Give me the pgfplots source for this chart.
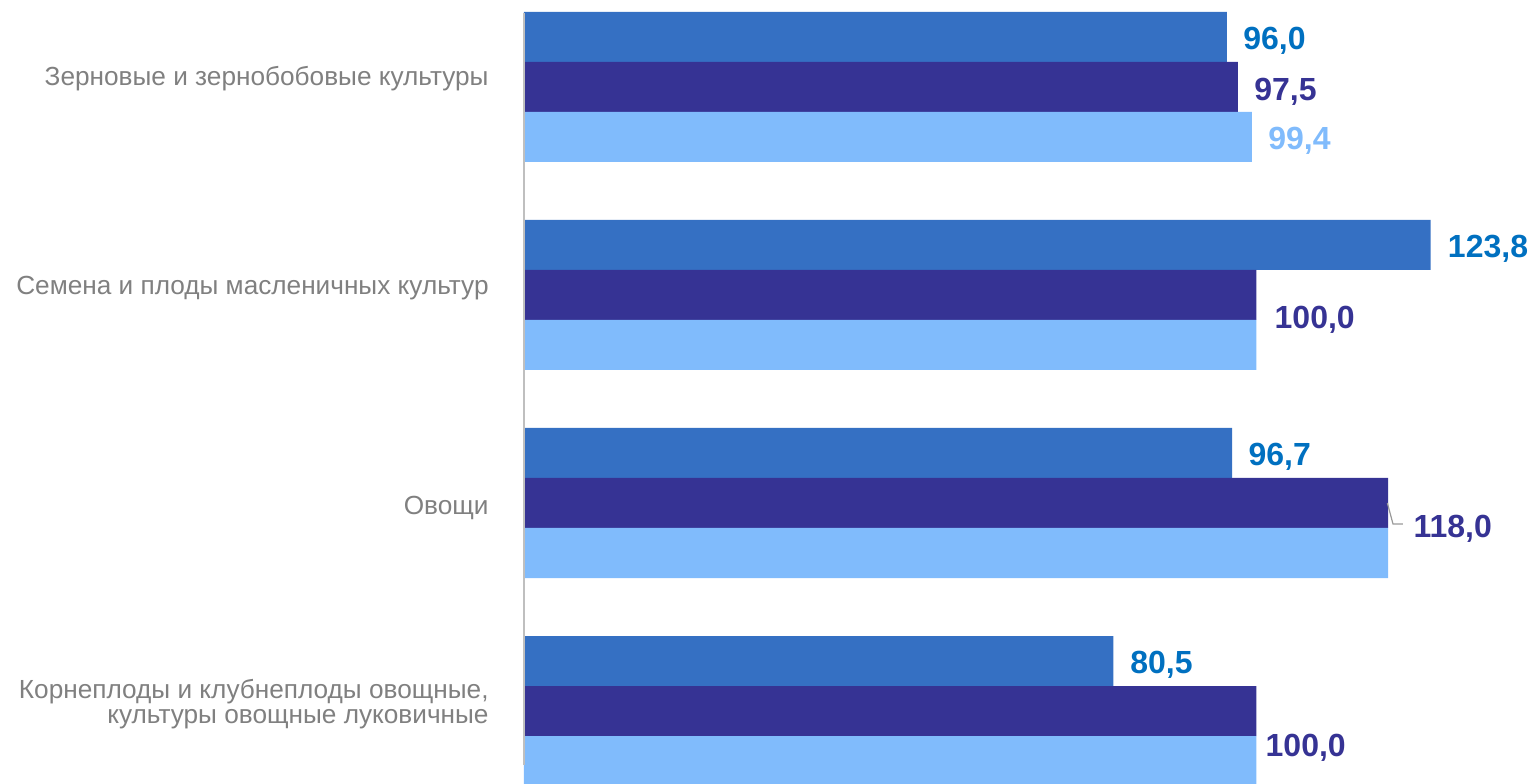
\documentclass[border=0pt]{standalone}
\usepackage{fontspec}
\setmainfont{Liberation Sans}
\usepackage{pgfplots}
\pgfplotsset{compat=1.18}
\definecolor{sA}{HTML}{3570C3}
\definecolor{sAl}{HTML}{0070C0}
\definecolor{sB}{HTML}{363394}
\definecolor{sC}{HTML}{80BBFC}
\definecolor{tick}{HTML}{808080}
\definecolor{axl}{HTML}{BFBFBF}
\tikzset{lbl/.style={inner sep=0pt, anchor=base west, font=\fontsize{16}{16}\selectfont\bfseries},
  cat/.style={inner sep=0pt, anchor=base east, xshift=-17.5pt, text=tick, font=\fontsize{13.1}{13.1}\selectfont}}
\begin{document}
\begin{tikzpicture}
\begin{axis}[
  name=ax,
  scale only axis,
  width=504pt, height=391.5pt,
  xmin=0, xmax=137.65,
  ymin=-0.346, ymax=3.418,
  xbar, bar width=25pt,
  axis line style={draw=none},
  xtick=\empty,
  ytick=\empty,
  clip=false,
]
\addplot[fill=sA, draw=none, bar shift=25pt] coordinates {(96.0,3) (123.8,2) (96.7,1) (80.5,0)};
\addplot[fill=sB, draw=none, bar shift=0pt] coordinates {(97.5,3) (100.0,2) (118.0,1) (100.0,0)};
\addplot[fill=sC, draw=none, bar shift=-25pt] coordinates {(99.4,3) (100.0,2) (118.0,1) (100.0,0)};
\draw[axl, line width=1pt] (axis cs:0,3.3555) -- (axis cs:0,-0.2598);
\draw[axl!80!black, line width=0.6pt] (axis cs:117.9,1.0) -- (axis cs:118.67,0.899) -- (axis cs:120.03,0.899);
% category labels
\node[cat] at (axis cs:0,3.0046) {Зерновые и зернобобовые культуры};
\node[cat] at (axis cs:0,2.0) {Семена и плоды масленичных культур};
\node[cat] at (axis cs:0,0.947) {Овощи};
\node[cat] at (axis cs:0,0.0622) {Корнеплоды и клубнеплоды овощные,};
\node[cat] at (axis cs:0,-0.0580) {культуры овощные луковичные};
% value labels
\node[lbl, text=sAl, xshift=8pt] at (axis cs:96.0,3.178) {96,0};
\node[lbl, text=sB, xshift=8pt] at (axis cs:97.5,2.937) {97,5};
\node[lbl, text=sC, xshift=8pt] at (axis cs:99.4,2.697) {99,4};
\node[lbl, text=sAl, xshift=8.5pt] at (axis cs:123.8,2.182) {123,8};
\node[lbl, text=sB, xshift=9pt] at (axis cs:100.0,1.841) {100,0};
\node[lbl, text=sAl, xshift=8pt] at (axis cs:96.7,1.182) {96,7};
\node[lbl, text=sB, xshift=12.5pt] at (axis cs:118.0,0.836) {118,0};
\node[lbl, text=sAl, xshift=8.25pt] at (axis cs:80.5,0.182) {80,5};
\node[lbl, text=sB, xshift=4.5pt] at (axis cs:100.0,-0.221) {100,0};
\end{axis}
\pgfresetboundingbox
\path (ax.south west) ++(-262pt,0pt) rectangle (ax.north east);
\end{tikzpicture}
\end{document}
